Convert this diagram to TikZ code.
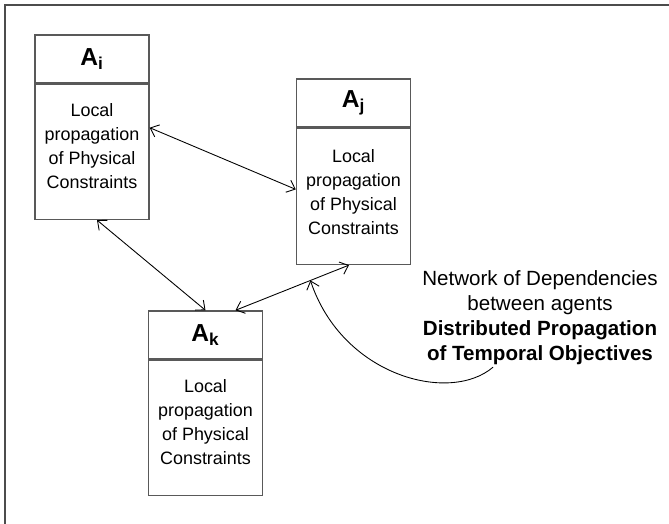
\documentclass[tikz,border=0pt]{standalone}
\usepackage{fontspec}
\setmainfont{Liberation Sans}
\usetikzlibrary{positioning,arrows.meta}

\begin{document}
\begin{tikzpicture}[
  head/.style={draw=black!65,line width=0.8pt,minimum width=2.28cm,minimum height=0.96cm,
    inner sep=0pt,font=\fontsize{14}{16}\selectfont\bfseries},
  body/.style={draw=black!65,line width=0.8pt,minimum width=2.28cm,inner sep=0pt},
  txt/.style={align=center,inner sep=0pt,font=\fontsize{10.2}{13.7}\selectfont},
  link/.style={line width=0.5pt,{Straight Barb[length=1.5mm,width=2.6mm]}-{Straight Barb[length=1.5mm,width=2.6mm]}},
  frame/.style={draw=black!70,line width=1.1pt}
]
\useasboundingbox (0,0) rectangle (13.38,10.48);
\draw[frame] (0.1,0) -- (0.1,10.38) -- (13.38,10.38);

% agent i
\node[head] (Ai) at (1.84,9.30) {A\textsubscript{i}};
\node[body,minimum height=2.70cm,below=0pt of Ai] (Aibody) {};
\node[txt,below=0.38cm of Aibody.north] (Aitext) {Local\\propagation\\of Physical\\Constraints};

% agent j
\node[head] (Aj) at (7.07,8.42) {A\textsubscript{j}};
\node[body,minimum height=2.72cm,below=0pt of Aj] (Ajbody) {};
\node[txt,below=0.42cm of Ajbody.north] (Ajtext) {Local\\propagation\\of Physical\\Constraints};

% agent k
\node[head] (Ak) at (4.11,3.78) {A\textsubscript{k}};
\node[body,minimum height=2.70cm,below=0pt of Ak] (Akbody) {};
\node[txt,below=0.38cm of Akbody.north] (Aktext) {Local\\propagation\\of Physical\\Constraints};

% dependencies
\draw[link] ([yshift=-0.88cm]Aibody.north east) -- ([yshift=0.14cm]Ajbody.west);
\draw[link] ([xshift=0.1cm]Aibody.south) -- (Ak.north);
\draw[link] ([xshift=-0.09cm]Ajbody.south) -- node[coordinate,pos=0.34] (hit) {} ([xshift=0.6cm]Ak.north);

\node[align=center,font=\fontsize{11.7}{14.2}\selectfont] (net) at (10.8,4.12)
  {Network of Dependencies\\between agents\\\textbf{Distributed Propagation}\\\textbf{of Temporal Objectives}};
\coordinate (tail) at ([xshift=-0.94cm,yshift=0.08cm]net.south);
\draw[line width=0.5pt,-{Straight Barb[length=1.5mm,width=2.6mm]}] (tail) .. controls (9.0,2.4) and (6.85,2.95) .. (hit);
\end{tikzpicture}
\end{document}
